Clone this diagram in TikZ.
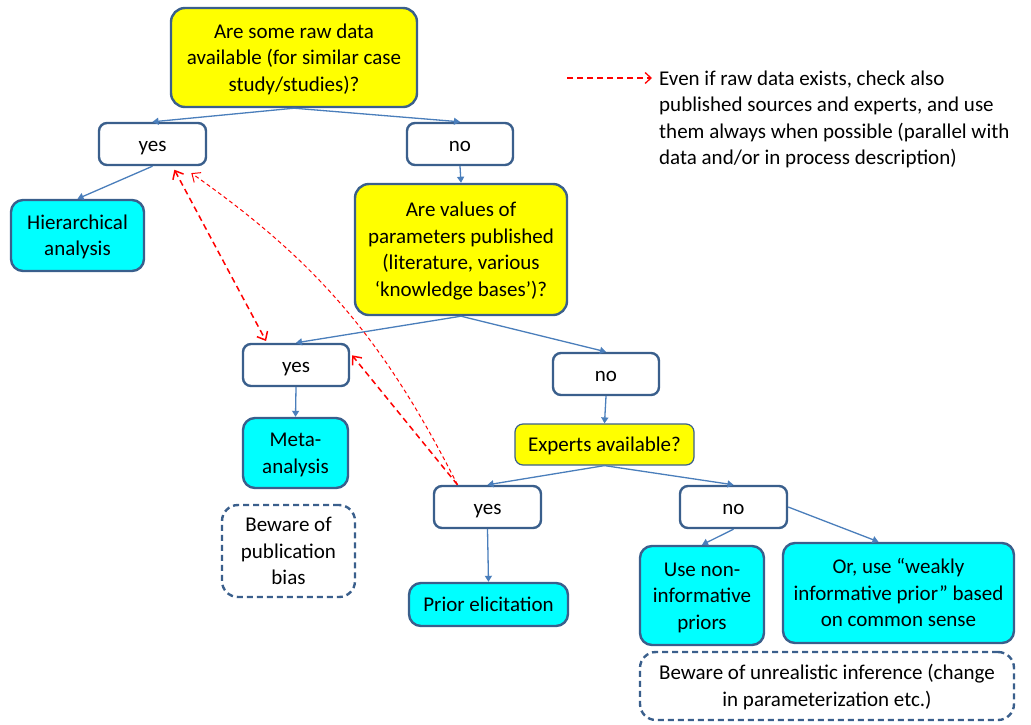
\documentclass[tikz,border=0pt]{standalone}
\usepackage{fontspec}
\setmainfont{Carlito}
\usetikzlibrary{arrows.meta,calc}
\definecolor{bord}{RGB}{58,95,140}
\definecolor{conn}{RGB}{74,126,187}
\definecolor{qyel}{RGB}{255,255,0}
\definecolor{rcyan}{RGB}{0,255,255}
\newcommand\mystrut{\rule[-6pt]{0pt}{26pt}}
\tikzset{
  every node/.style={font=\fontsize{21}{26.5}\selectfont, align=center, inner sep=0pt},
  box/.style={draw=bord, line width=2.4pt},
  quest/.style={box, fill=qyel, rounded corners=14pt},
  qsmall/.style={draw=bord, line width=1.2pt, fill=qyel, rounded corners=8pt},
  ans/.style={box, fill=white, rounded corners=8pt},
  res/.style={box, fill=rcyan, rounded corners=12pt},
  warn/.style={box, dashed, dash pattern=on 6pt off 4pt, fill=white, rounded corners=16pt},
  link/.style={draw=conn, line width=1.3pt, -{Triangle[length=6pt,width=7pt]}},
  redarr/.style={draw=red, line width=1.5pt, dash pattern=on 6pt off 4pt, -{Straight Barb[length=7pt,width=12pt]}},
  redthin/.style={draw=red, line width=1pt, dash pattern=on 4pt off 3pt, -{Straight Barb[length=7pt,width=12pt]}},
}
\begin{document}
\begin{tikzpicture}[x=1pt,y=-1pt]
\path[use as bounding box] (0,0) rectangle (1031,724);

\node[quest, minimum width=246pt, minimum height=99pt] (q1) at (294,57.5) {\mystrut Are some raw data\\available (for similar case\\study/studies)?\mystrut};
\node[ans, minimum width=107pt, minimum height=42pt] (y1) at (152.5,144) {\mystrut yes};
\node[ans, minimum width=106pt, minimum height=42pt] (n1) at (460,144) {\mystrut no};
\node[res, minimum width=133pt, minimum height=71pt] (hier) at (77.5,235.5) {\mystrut Hierarchical\\analysis\mystrut};
\node[quest, minimum width=212pt, minimum height=131pt] (q2) at (461,249.5) {\mystrut Are values of\\parameters published\\(literature, various\\‘knowledge bases’)?\mystrut};
\node[ans, minimum width=106pt, minimum height=42pt] (y2) at (296,365) {\mystrut yes};
\node[ans, minimum width=106pt, minimum height=42pt] (n2) at (606,374) {\mystrut no};
\node[res, minimum width=105pt, minimum height=70pt] (meta) at (295.5,453) {\mystrut Meta-\\analysis\mystrut};
\node[warn, minimum width=133pt, minimum height=92pt] (pub) at (288.5,551) {\mystrut Beware of\\publication\\bias\mystrut};
\node[qsmall, minimum width=179pt, minimum height=41pt] (q3) at (604.5,444.5) {\mystrut Experts available?};
\node[ans, minimum width=107pt, minimum height=42pt] (y3) at (487.5,507) {\mystrut yes};
\node[ans, minimum width=107pt, minimum height=42pt] (n3) at (733.5,507) {\mystrut no};
\node[res, minimum width=159pt, minimum height=43pt] (prior) at (488.5,604.5) {\mystrut Prior elicitation};
\node[res, minimum width=124pt, minimum height=99pt] (noninf) at (702,595.5) {\mystrut Use non-\\informative\\priors\mystrut};
\node[res, minimum width=231pt, minimum height=100pt] (weak) at (898.5,593) {\mystrut Or, use “weakly\\informative prior” based\\on common sense\mystrut};
\node[warn, minimum width=374pt, minimum height=68pt] (unreal) at (827,686) {\mystrut Beware of unrealistic inference (change\\in parameterization etc.)\mystrut};

% blue connectors
\draw[link] (q1.south) -- (y1.north);
\draw[link] (q1.south) -- (n1.north);
\draw[link] (y1.south) -- (hier.north);
\draw[link] (n1.south) -- (q2.north);
\draw[link] (q2.south) -- (y2.north);
\draw[link] (q2.south) -- (n2.north);
\draw[link] (y2.south) -- (meta.north);
\draw[link] (n2.south) -- (q3.north);
\draw[link] (q3.south) -- (y3.north);
\draw[link] (q3.south) -- (n3.north);
\draw[link] (y3.south) -- (prior.north);
\draw[link] (n3.south) -- (noninf.north);
\draw[link] (n3.east) -- ([xshift=-20pt]weak.north);

% red dashed connectors
\draw[redarr, {Straight Barb[length=7pt,width=12pt]}-{Straight Barb[length=7pt,width=12pt]}, shorten <=4pt, shorten >=2pt] ([xshift=20pt]y1.south) -- ([xshift=-29pt]y2.north);
\draw[redthin, shorten >=12pt] ([xshift=-30pt]y3.north) to[bend right=14] ([xshift=29pt]y1.south);
\draw[redarr, shorten >=3pt] ([xshift=-30pt]y3.north) -- ([yshift=12pt]y2.east);

% legend
\coordinate (la) at (567,78);
\coordinate (lb) at (652,78);
\draw[redarr, line width=1.3pt, -{Straight Barb[length=6pt,width=11pt]}] (la) -- (lb);
\node[anchor=north west, align=left] (legtext) at (659,65) {\mystrut Even if raw data exists, check also\\published sources and experts, and use\\them always when possible (parallel with\\data and/or in process description)};
\end{tikzpicture}
\end{document}
